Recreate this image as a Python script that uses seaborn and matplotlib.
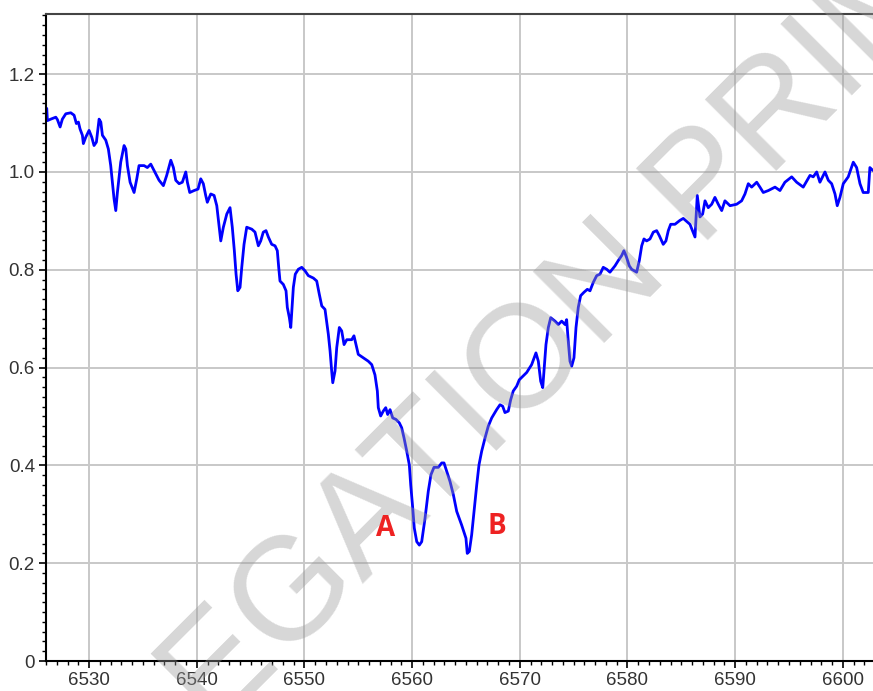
import numpy as np
import pandas as pd
import matplotlib
matplotlib.use("Agg")
import matplotlib.pyplot as plt
import seaborn as sns
from matplotlib.ticker import MultipleLocator, FuncFormatter

# wavelength (Angstrom) and normalised flux
wavelength = [
    6526.07, 6526.13, 6526.44, 6526.91, 6527.06, 6527.31, 6527.52, 6527.84, 6528.30, 6528.61,
    6528.82, 6529.01, 6529.16, 6529.38, 6529.47, 6529.69, 6530.00, 6530.25, 6530.46, 6530.68,
    6530.93, 6531.09, 6531.24, 6531.55, 6531.79, 6532.01, 6532.16, 6532.32, 6532.48, 6532.63,
    6532.94, 6533.25, 6533.41, 6533.56, 6533.81, 6534.18, 6534.43, 6534.64, 6535.11, 6535.41,
    6535.73, 6536.03, 6536.50, 6536.90, 6537.21, 6537.59, 6537.83, 6538.05, 6538.36, 6538.66,
    6538.98, 6539.13, 6539.35, 6539.75, 6540.12, 6540.37, 6540.61, 6540.83, 6540.98, 6541.30,
    6541.61, 6541.86, 6542.01, 6542.23, 6542.47, 6542.79, 6543.09, 6543.30, 6543.49, 6543.65,
    6543.81, 6544.02, 6544.18, 6544.39, 6544.64, 6545.11, 6545.41, 6545.72, 6545.94, 6546.18,
    6546.43, 6546.65, 6546.96, 6547.27, 6547.48, 6547.61, 6547.73, 6548.04, 6548.29, 6548.41,
    6548.60, 6548.73, 6548.85, 6548.97, 6549.15, 6549.43, 6549.75, 6550.05, 6550.36, 6550.83,
    6551.14, 6551.38, 6551.61, 6551.91, 6552.07, 6552.22, 6552.38, 6552.53, 6552.63, 6552.84,
    6553.00, 6553.24, 6553.46, 6553.68, 6553.93, 6554.39, 6554.60, 6554.85, 6555.00, 6555.47,
    6555.93, 6556.25, 6556.55, 6556.77, 6556.86, 6557.08, 6557.32, 6557.55, 6557.73, 6557.95,
    6558.20, 6558.50, 6558.81, 6559.03, 6559.25, 6559.50, 6559.74, 6559.87, 6560.06, 6560.20,
    6560.43, 6560.67, 6560.89, 6561.20, 6561.50, 6561.75, 6562.03, 6562.43, 6562.75, 6562.96,
    6563.21, 6563.52, 6563.83, 6564.14, 6564.60, 6565.00, 6565.12, 6565.31, 6565.53, 6565.75,
    6566.00, 6566.21, 6566.46, 6566.77, 6567.07, 6567.39, 6567.85, 6568.16, 6568.41, 6568.62,
    6568.93, 6569.15, 6569.39, 6569.71, 6569.95, 6570.64, 6571.10, 6571.50, 6571.72, 6571.94,
    6572.13, 6572.27, 6572.43, 6572.65, 6572.87, 6573.27, 6573.58, 6573.89, 6574.20, 6574.35,
    6574.50, 6574.66, 6574.82, 6575.03, 6575.22, 6575.43, 6575.65, 6575.96, 6576.27, 6576.52,
    6576.82, 6577.14, 6577.45, 6577.75, 6578.07, 6578.37, 6578.84, 6579.15, 6579.46, 6579.67,
    6579.92, 6580.17, 6580.39, 6580.63, 6580.85, 6581.10, 6581.32, 6581.53, 6581.78, 6582.09,
    6582.40, 6582.71, 6582.95, 6583.32, 6583.57, 6583.79, 6584.01, 6584.41, 6584.87, 6585.18,
    6585.80, 6586.27, 6586.48, 6586.73, 6586.98, 6587.20, 6587.50, 6587.82, 6588.12, 6588.43,
    6588.75, 6589.05, 6589.52, 6590.14, 6590.60, 6590.91, 6591.22, 6591.53, 6592.00, 6592.30,
    6592.61, 6593.08, 6593.70, 6594.16, 6594.62, 6595.25, 6595.71, 6596.32, 6596.95, 6597.25,
    6597.57, 6597.87, 6598.34, 6598.65, 6598.96, 6599.27, 6599.48, 6599.73, 6600.04, 6600.50,
    6600.97, 6601.28, 6601.59, 6601.89, 6602.36, 6602.51, 6602.79,
]
flux = [
    1.130, 1.105, 1.108, 1.112, 1.107, 1.092, 1.108, 1.119, 1.121, 1.116,
    1.099, 1.102, 1.088, 1.075, 1.058, 1.071, 1.085, 1.071, 1.054, 1.061,
    1.108, 1.102, 1.075, 1.065, 1.047, 1.013, 0.979, 0.945, 0.921, 0.958,
    1.020, 1.054, 1.047, 1.013, 0.979, 0.958, 0.986, 1.013, 1.013, 1.009,
    1.016, 1.003, 0.983, 0.972, 0.993, 1.024, 1.009, 0.983, 0.976, 0.979,
    1.000, 0.979, 0.958, 0.962, 0.965, 0.986, 0.976, 0.952, 0.938, 0.955,
    0.952, 0.931, 0.901, 0.859, 0.887, 0.914, 0.927, 0.887, 0.839, 0.791,
    0.757, 0.764, 0.805, 0.852, 0.887, 0.883, 0.877, 0.849, 0.859, 0.877,
    0.880, 0.867, 0.852, 0.849, 0.839, 0.805, 0.777, 0.770, 0.757, 0.723,
    0.702, 0.682, 0.723, 0.764, 0.791, 0.801, 0.805, 0.798, 0.788, 0.783,
    0.777, 0.750, 0.726, 0.719, 0.692, 0.668, 0.634, 0.593, 0.569, 0.593,
    0.641, 0.682, 0.675, 0.647, 0.657, 0.657, 0.665, 0.641, 0.627, 0.620,
    0.613, 0.606, 0.585, 0.552, 0.518, 0.501, 0.511, 0.518, 0.504, 0.514,
    0.497, 0.494, 0.487, 0.477, 0.456, 0.429, 0.401, 0.360, 0.312, 0.272,
    0.244, 0.237, 0.244, 0.292, 0.347, 0.381, 0.396, 0.396, 0.405, 0.405,
    0.388, 0.367, 0.340, 0.306, 0.278, 0.251, 0.220, 0.224, 0.258, 0.306,
    0.360, 0.401, 0.429, 0.456, 0.480, 0.497, 0.514, 0.524, 0.521, 0.508,
    0.511, 0.534, 0.552, 0.562, 0.575, 0.590, 0.606, 0.630, 0.613, 0.572,
    0.559, 0.599, 0.647, 0.682, 0.702, 0.695, 0.688, 0.695, 0.688, 0.698,
    0.654, 0.613, 0.603, 0.620, 0.682, 0.723, 0.747, 0.754, 0.760, 0.757,
    0.774, 0.788, 0.791, 0.805, 0.801, 0.795, 0.808, 0.819, 0.829, 0.839,
    0.825, 0.808, 0.801, 0.798, 0.795, 0.819, 0.849, 0.863, 0.859, 0.863,
    0.877, 0.880, 0.870, 0.852, 0.859, 0.880, 0.893, 0.893, 0.901, 0.905,
    0.893, 0.867, 0.952, 0.908, 0.914, 0.941, 0.927, 0.934, 0.948, 0.934,
    0.921, 0.941, 0.931, 0.934, 0.941, 0.955, 0.976, 0.969, 0.979, 0.969,
    0.958, 0.962, 0.969, 0.962, 0.979, 0.990, 0.979, 0.969, 0.993, 0.990,
    1.000, 0.979, 1.000, 0.983, 0.976, 0.955, 0.931, 0.948, 0.976, 0.990,
    1.020, 1.009, 0.976, 0.958, 0.958, 1.009, 1.003,
]

x_ticks = [6530, 6540, 6550, 6560, 6570, 6580, 6590, 6600]
y_ticks = [0, 0.2, 0.4, 0.6, 0.8, 1.0, 1.2]
labels = ["A", "B"]
label_x = [6557.5, 6567.9]
label_y = [0.271, 0.275]
watermark = "EGATION PRIM"

sns.set_theme(style="whitegrid")
plt.rcParams["font.family"] = ["Liberation Sans", "DejaVu Sans"]

df = pd.DataFrame({"wavelength": wavelength, "flux": flux})

fig = plt.figure(figsize=(8.73, 6.91), dpi=100)
ax = fig.add_axes([46 / 873, 30 / 691, 827 / 873, 647 / 691])

sns.lineplot(data=df, x="wavelength", y="flux", ax=ax, color="#0000ff",
             linewidth=2.0, sort=False, estimator=None)

ax.set_xlim(6526.0, 6602.8)
ax.set_ylim(0, 1.323)
ax.set_xticks(x_ticks)
ax.set_yticks(y_ticks)
ax.xaxis.set_minor_locator(MultipleLocator(1))
ax.yaxis.set_minor_locator(MultipleLocator(0.02))
ax.yaxis.set_major_formatter(FuncFormatter(lambda v, p: "0" if abs(v) < 1e-9 else f"{v:.1f}"))
ax.set_xlabel("")
ax.set_ylabel("")

ax.set_facecolor("white")
ax.grid(True, which="major", color="#c8c8c8", linewidth=1.4)
ax.grid(False, which="minor")
for side in ["left", "bottom"]:
    ax.spines[side].set_color("black")
    ax.spines[side].set_linewidth(1.5)
ax.spines["top"].set_color("#444444")
ax.spines["top"].set_linewidth(1.5)
ax.spines["right"].set_visible(False)

ax.tick_params(axis="both", which="major", labelsize=13.5, labelcolor="#333333",
               length=5, width=1.2, color="black", direction="out", pad=3,
               bottom=True, left=True)
ax.tick_params(axis="both", which="minor", length=3, width=1.0, color="black",
               direction="out", bottom=True, left=True)

# watermark across the plot: over the spectrum, under the A/B labels
ax.text(0.640, 0.515, watermark, transform=fig.transFigure, rotation=45,
        fontsize=105, color="#9a9a9a", alpha=0.4, ha="center", va="center",
        rotation_mode="anchor", zorder=5, clip_on=False,
        family=["Liberation Sans", "DejaVu Sans"])

for lab, lx, ly in zip(labels, label_x, label_y):
    ax.text(lx, ly, lab, color="#ee2222", fontsize=20, fontweight="bold",
            ha="center", va="center", zorder=6, family=["Open Sans", "DejaVu Sans"])

fig.savefig("out.png", dpi=100, facecolor="white")
